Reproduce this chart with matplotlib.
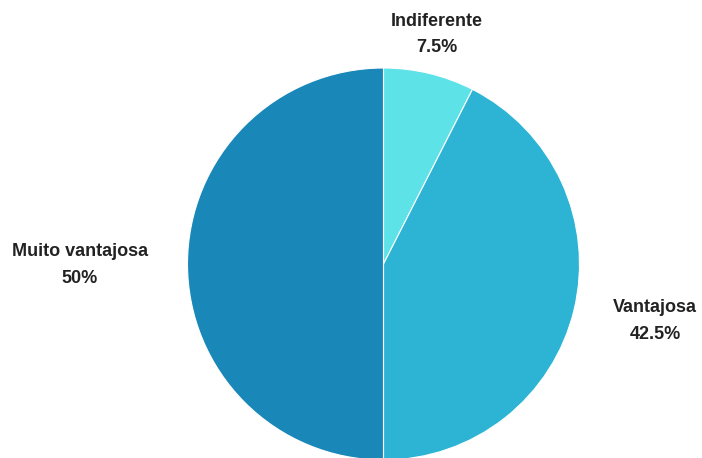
import matplotlib
matplotlib.use("Agg")
import matplotlib.pyplot as plt

# Survey answers and their shares (%)
categories = ["Indiferente", "Vantajosa", "Muito vantajosa"]
shares = [7.5, 42.5, 50.0]
colors = ["#5DE2E7", "#2DB4D4", "#1A87B9"]

W, H = 702, 458
fig = plt.figure(figsize=(W / 100, H / 100), dpi=100)
ax = fig.add_axes([0, 0, 1, 1])
ax.set_xlim(0, W)
ax.set_ylim(0, H)
ax.set_aspect("equal")
ax.axis("off")

cx, cy, r = 383.5, H - 264, 196
ax.pie(shares, colors=colors, startangle=90, counterclock=False,
       center=(cx, cy), radius=r,
       wedgeprops=dict(edgecolor="white", linewidth=0.8))
ax.set_xlim(0, W)
ax.set_ylim(0, H)

def fmt(v):
    return f"{v:g}%"

# label anchor points in pixel coordinates (from top-left)
label_pos = [(437, 34.5), (655, 321), (80, 265)]
for name, v, (x, y) in zip(categories, shares, label_pos):
    ax.text(x, H - y, f"{name}\n{fmt(v)}", ha="center", va="center",
            fontsize=13, fontweight="bold", family="Liberation Sans",
            color="#222222", linespacing=1.72)

fig.savefig("out.png", dpi=100)
